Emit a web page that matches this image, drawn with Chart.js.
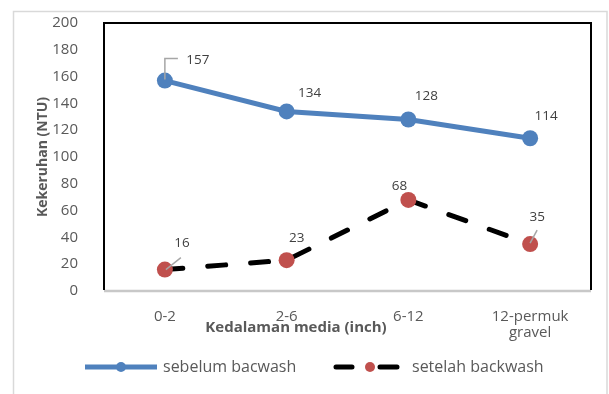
<!DOCTYPE html>
<html>
<head>
<meta charset="utf-8">
<script src="https://cdn.jsdelivr.net/npm/chart.js@4.4.1/dist/chart.umd.min.js"></script>
<style>
  html, body { margin: 0; padding: 0; background: #fff; }
  #wrap { position: relative; width: 609px; height: 394px; }
</style>
</head>
<body>
<div id="wrap"><canvas id="c" width="609" height="394"></canvas></div>
<script>
// Depth ranges of the filter media and turbidity measured before/after backwash
const categories = ['0-2', '2-6', '6-12', ['12-permuk', 'gravel']];
const sebelumBackwash = [157, 134, 128, 114];
const setelahBackwash = [16, 23, 68, 35];
const yTicks = [0, 20, 40, 60, 80, 100, 120, 140, 160, 180, 200];

const FONT = '"Open Sans", Lato, "Liberation Sans", sans-serif';
const TEXT = '#595959';
const BLUE = '#4f81bd';
const RED = '#c0504d';

// label placement offsets (dx, dy from the point) and optional leader polylines
const labelLayout = [
  [
    { dx: 33, dy: -20, leader: [[0, -1], [0, -22], [13, -22]] },
    { dx: 23, dy: -18 },
    { dx: 18, dy: -23 },
    { dx: 16, dy: -22 }
  ],
  [
    { dx: 17, dy: -26, leader: [[1, 0], [16, -12]] },
    { dx: 10, dy: -22 },
    { dx: -9, dy: -14 },
    { dx: 7, dy: -27, leader: [[0, -1], [7, -14]] }
  ]
];

const frame = {
  id: 'frame',
  beforeDraw(chart) {
    const ctx = chart.ctx;
    ctx.save();
    ctx.fillStyle = '#fff';
    ctx.fillRect(0, 0, chart.width, chart.height);
    ctx.strokeStyle = '#d9d9d9';
    ctx.lineWidth = 1.5;
    ctx.strokeRect(13.5, 11.5, 593.5, 400);
    ctx.restore();
  },
  beforeDatasetsDraw(chart) {
    const { ctx, chartArea: a } = chart;
    ctx.save();
    ctx.strokeStyle = '#c8c8c8';
    ctx.lineWidth = 2.5;
    ctx.beginPath();
    ctx.moveTo(a.left, a.bottom);
    ctx.lineTo(a.right, a.bottom);
    ctx.stroke();
    ctx.strokeStyle = '#000';
    ctx.lineWidth = 2;
    ctx.beginPath();
    ctx.moveTo(a.left, a.bottom - 1);
    ctx.lineTo(a.left, a.top);
    ctx.lineTo(a.right, a.top);
    ctx.lineTo(a.right, a.bottom - 1);
    ctx.stroke();
    ctx.restore();
  },
  afterDatasetsDraw(chart) {
    const ctx = chart.ctx;
    ctx.save();
    ctx.font = '13.5px ' + FONT;
    ctx.fillStyle = '#404040';
    ctx.textAlign = 'center';
    ctx.textBaseline = 'middle';
    chart.data.datasets.forEach((ds, di) => {
      const meta = chart.getDatasetMeta(di);
      meta.data.forEach((pt, i) => {
        const L = labelLayout[di][i];
        if (L.leader) {
          ctx.strokeStyle = '#a6a6a6';
          ctx.lineWidth = 1.5;
          ctx.beginPath();
          L.leader.forEach(([x, y], k) => {
            if (k === 0) ctx.moveTo(pt.x + x, pt.y + y);
            else ctx.lineTo(pt.x + x, pt.y + y);
          });
          ctx.stroke();
        }
        ctx.fillText(String(ds.data[i]), pt.x + L.dx, pt.y + L.dy);
      });
    });
    // x axis title
    ctx.font = 'bold 15px ' + FONT;
    ctx.fillStyle = TEXT;
    ctx.fillText('Kedalaman media (inch)', 296, 328);
    // legend
    ctx.lineCap = 'butt';
    ctx.strokeStyle = BLUE;
    ctx.lineWidth = 5;
    ctx.beginPath();
    ctx.moveTo(85, 367);
    ctx.lineTo(157, 367);
    ctx.stroke();
    ctx.fillStyle = BLUE;
    ctx.beginPath();
    ctx.arc(121, 367, 5, 0, Math.PI * 2);
    ctx.fill();
    ctx.strokeStyle = '#000';
    ctx.lineCap = 'round';
    ctx.beginPath();
    ctx.moveTo(336, 367); ctx.lineTo(352, 367);
    ctx.moveTo(380, 367); ctx.lineTo(397, 367);
    ctx.stroke();
    ctx.fillStyle = RED;
    ctx.beginPath();
    ctx.arc(370, 367, 5, 0, Math.PI * 2);
    ctx.fill();
    ctx.font = '16px ' + FONT;
    ctx.fillStyle = TEXT;
    ctx.textAlign = 'left';
    ctx.fillText('sebelum bacwash', 163, 367);
    ctx.fillText('setelah backwash', 412, 367);
    ctx.restore();
  }
};

new Chart(document.getElementById('c'), {
  type: 'line',
  data: {
    labels: categories,
    datasets: [
      {
        label: 'sebelum bacwash',
        data: sebelumBackwash,
        borderColor: BLUE,
        backgroundColor: BLUE,
        borderWidth: 5,
        pointRadius: 8,
        pointHoverRadius: 8,
        pointBorderWidth: 0,
        tension: 0
      },
      {
        label: 'setelah backwash',
        data: setelahBackwash,
        borderColor: '#000',
        backgroundColor: RED,
        pointBackgroundColor: RED,
        borderWidth: 5,
        borderDash: [18, 25],
        borderCapStyle: 'round',
        pointRadius: 8,
        pointHoverRadius: 8,
        pointBorderWidth: 0,
        tension: 0
      }
    ]
  },
  options: {
    responsive: false,
    animation: false,
    events: [],
    layout: { padding: { left: 13, right: 18, top: 23, bottom: 0 } },
    plugins: {
      legend: { display: false },
      tooltip: { enabled: false }
    },
    scales: {
      x: {
        offset: true,
        grid: { display: false },
        border: { display: false },
        ticks: {
          color: TEXT,
          font: { family: FONT, size: 15, lineHeight: 1.1 },
          maxRotation: 0,
          padding: 9
        },
        afterFit(scale) { scale.height = 103; }
      },
      y: {
        min: 0,
        max: 200,
        afterBuildTicks(scale) { scale.ticks = yTicks.map(v => ({ value: v })); },
        grid: { display: false },
        border: { display: false },
        ticks: {
          color: TEXT,
          font: { family: FONT, size: 15 },
          padding: 18
        },
        title: {
          display: true,
          text: 'Kekeruhan (NTU)',
          color: TEXT,
          font: { family: FONT, size: 14, weight: 'bold' },
          padding: { top: 22, bottom: 0 }
        },
        afterFit(scale) {
          scale.width = 91;
          scale.paddingTop = 10;
          scale.paddingBottom = 10;
        }
      }
    }
  },
  plugins: [frame]
});
</script>
</body>
</html>
